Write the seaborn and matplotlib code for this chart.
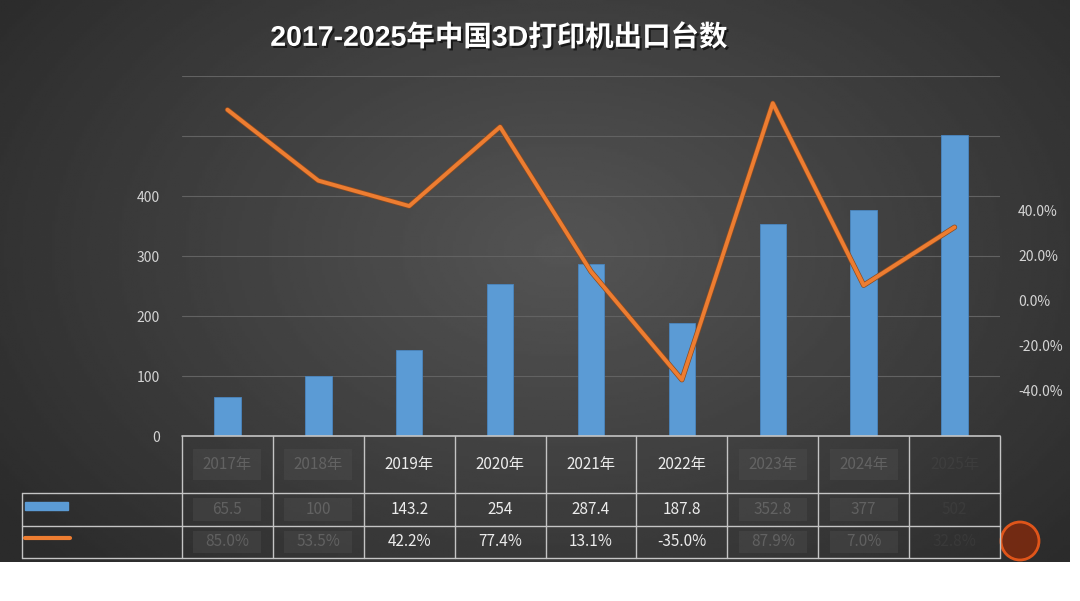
import numpy as np
import pandas as pd
import matplotlib
matplotlib.use("Agg")
import matplotlib.pyplot as plt
import matplotlib.patheffects as pe
from matplotlib.patches import Rectangle, Circle
import seaborn as sns

# data
years = ['2017年', '2018年', '2019年', '2020年', '2021年', '2022年', '2023年', '2024年', '2025年']
units = [65.5, 100.0, 143.2, 254.0, 287.4, 187.8, 352.8, 377.0, 502.0]
growth = [85.0, 53.5, 42.2, 77.4, 13.1, -35.0, 87.9, 7.0, 32.8]
unit_labels = ['65.5', '100', '143.2', '254', '287.4', '187.8', '352.8', '377', '502']
left_ticks = [0, 100, 200, 300, 400, 500, 600]
left_ticklabels = ['0', '100', '200', '300', '400', '', '']
right_ticks = [-40, -20, 0, 20, 40]
shown_cols = [2, 3, 4, 5]   # only these table columns are legible in the picture

title = '2017-2025年中国3D打印机出口台数'

sns.set_theme(style="white")
plt.rcParams['font.family'] = ['Noto Sans CJK SC', 'DejaVu Sans']
plt.rcParams['axes.unicode_minus'] = False

W, H = 1080, 601
fig = plt.figure(figsize=(W / 100, H / 100), dpi=100)
fig.patch.set_facecolor('white')

# dark radial background
bg = fig.add_axes([0, 0, 1, 1], zorder=0)
bg.axis('off')
gx, gy = np.meshgrid(np.linspace(0, 1070, 400), np.linspace(0, 562, 220))
r = np.sqrt(((gx - 560) / 640) ** 2 + ((gy - 250) / 430) ** 2)
shade = np.clip(0.33 - 0.15 * r, 0.17, 0.33)
bg.imshow(shade, cmap='gray', vmin=0, vmax=1, extent=[0, 1070, 562, 0], aspect='auto')
bg.set_xlim(0, W)
bg.set_ylim(H, 0)

# plot area in pixels
px_l, px_r, px_t, px_b = 182, 1000, 76, 436
ax = fig.add_axes([px_l / W, (H - px_b) / H, (px_r - px_l) / W, (px_b - px_t) / H], zorder=2)
ax.set_facecolor('none')

df = pd.DataFrame({'year': years, 'units': units, 'growth': growth})
sns.barplot(data=df, x='year', y='units', ax=ax, color='#5b9bd5', width=0.29,
            saturation=1, edgecolor='#4a86c0', linewidth=0.6, zorder=3)
ax.set_xlim(-0.5, len(years) - 0.5)
ax.set_ylim(0, 600)
ax.set_yticks(left_ticks)
ax.set_yticklabels(left_ticklabels)
ax.tick_params(axis='y', colors='#d4d4d4', labelsize=10, length=0, pad=16)
ax.set_xticks([])
ax.set_xlabel('')
ax.set_ylabel('')
ax.grid(axis='y', color='#626262', linewidth=0.8)
ax.set_axisbelow(True)
for s in ax.spines.values():
    s.set_visible(False)

ax2 = ax.twinx()
ax2.set_facecolor('none')
sns.lineplot(x=np.arange(len(years)), y=df['growth'], ax=ax2, color='#ed7d31', linewidth=2.8,
             path_effects=[pe.Stroke(linewidth=3.8, foreground='#8a4a20'), pe.Normal()])
ax2.set_ylim(-60, 100)
ax2.set_yticks(right_ticks)
ax2.set_yticklabels([f'{v:.1f}%' for v in right_ticks])
ax2.tick_params(axis='y', colors='#d4d4d4', labelsize=10, length=0, pad=13)
ax2.set_ylabel('')
ax2.grid(False)
for s in ax2.spines.values():
    s.set_visible(False)

# title
fig.text(499 / W, 1 - 38 / H, title, ha='center', va='center', color='white', fontsize=20.5,
         fontweight='bold', family=['Liberation Sans', 'Noto Sans CJK SC'],
         path_effects=[pe.withSimplePatchShadow(offset=(1.5, -1.5), shadow_rgbFace='black', alpha=0.6)])

# data table under the chart
ov = fig.add_axes([0, 0, 1, 1], zorder=3)
ov.set_xlim(0, W)
ov.set_ylim(H, 0)
ov.axis('off')
ov.patch.set_alpha(0)

lc = '#c4c4c4'
col_w = (px_r - px_l) / len(years)
row_y = [436, 493, 526, 558]
ov.plot([px_l, px_r], [row_y[0], row_y[0]], color=lc, lw=1.2)
for yy in row_y[1:]:
    ov.plot([22, px_r], [yy, yy], color=lc, lw=1)
for i in range(len(years) + 1):
    ov.plot([px_l + i * col_w] * 2, [row_y[0], row_y[3]], color=lc, lw=1)
ov.plot([22, 22], [row_y[1], row_y[3]], color=lc, lw=1)

# legend swatches
ov.add_patch(Rectangle((25, 502), 43, 8, color='#5b9bd5'))
ov.plot([25, 70], [538, 538], color='#ed7d31', lw=3)

for i, yr in enumerate(years):
    cx = px_l + (i + 0.5) * col_w
    if i in shown_cols:
        kw = dict(color='#ececec', alpha=1.0)
    elif i == len(years) - 1:
        kw = dict(color='#8a8a8a', alpha=0.1)
    else:
        kw = dict(color='#a0a0a0', alpha=0.35)
        for (y0, y1) in [(449, 480), (498, 521), (531, 553)]:
            ov.add_patch(Rectangle((cx - 34, y0), 68, y1 - y0, color='#4c4c4c', alpha=0.45, lw=0))
    ov.text(cx, (row_y[0] + row_y[1]) / 2, yr, ha='center', va='center', fontsize=11, **kw)
    ov.text(cx, (row_y[1] + row_y[2]) / 2, unit_labels[i], ha='center', va='center', fontsize=11, **kw)
    ov.text(cx, (row_y[2] + row_y[3]) / 2, f'{growth[i]:.1f}%', ha='center', va='center',
            fontsize=11, **kw)

# watermark badge
ov.add_patch(Circle((1020, 541), 19, facecolor='#7a2a10', edgecolor='#f05a1a', lw=2, alpha=0.9))

fig.savefig('out.png', dpi=100)
